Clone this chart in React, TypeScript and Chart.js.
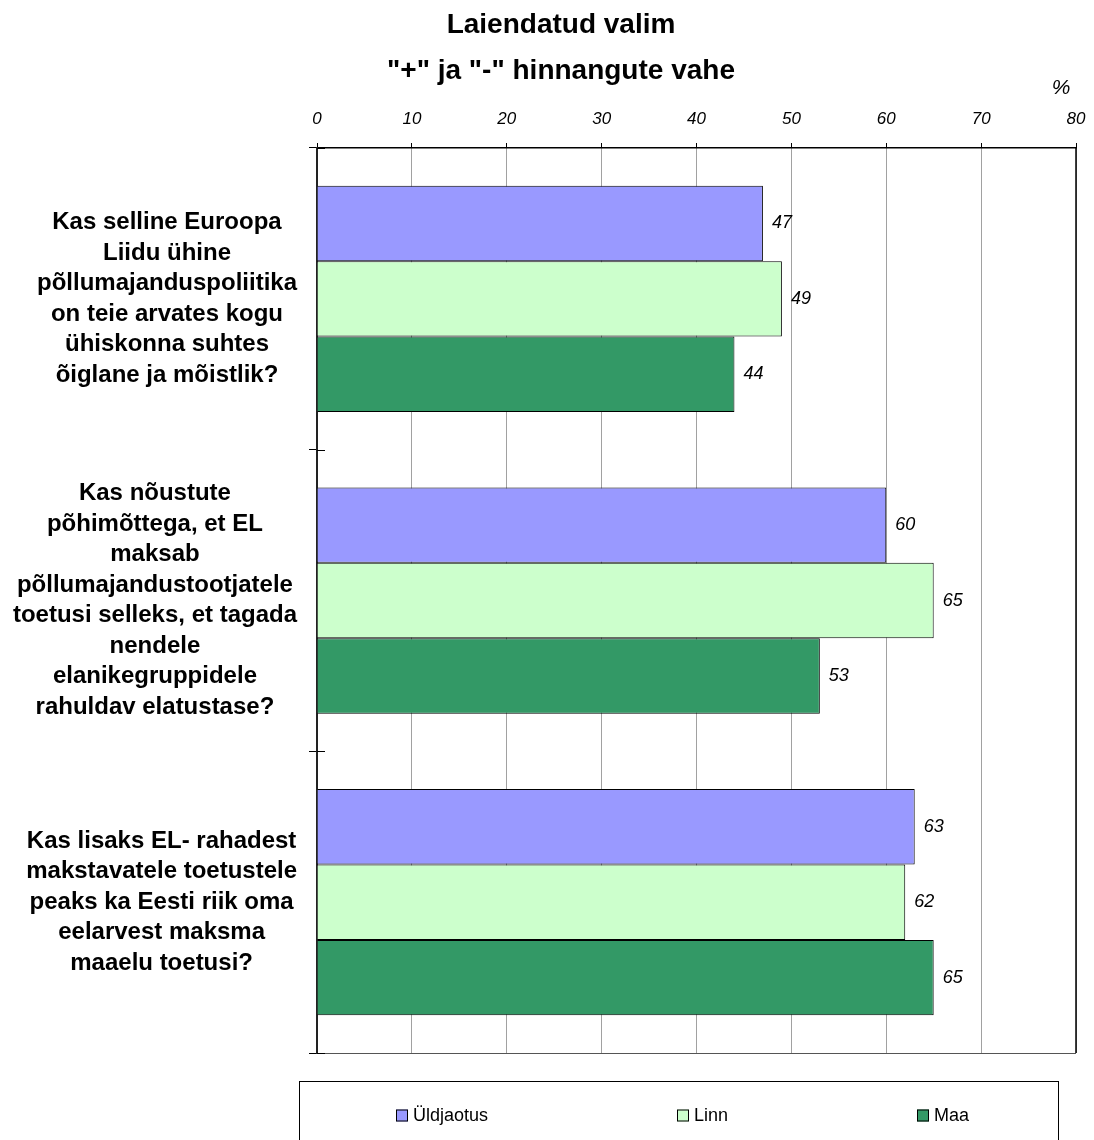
import React, { useEffect, useRef } from "react";
import { Chart, registerables } from "chart.js";

Chart.register(...registerables);

const FONT = '"Liberation Sans", Arial, Helvetica, sans-serif';

const titleLines = ["Laiendatud valim", '"+" ja "-" hinnangute vahe'];
const unitLabel = "%";

const categories: string[][] = [
  [
    "Kas selline Euroopa",
    "Liidu ühine",
    "põllumajanduspoliitika",
    "on teie arvates kogu",
    "ühiskonna suhtes",
    "õiglane ja mõistlik?",
  ],
  [
    "Kas nõustute",
    "põhimõttega, et EL",
    "maksab",
    "põllumajandustootjatele",
    "toetusi selleks, et tagada",
    "nendele",
    "elanikegruppidele",
    "rahuldav elatustase?",
  ],
  [
    "Kas lisaks EL- rahadest",
    "makstavatele toetustele",
    "peaks ka Eesti riik oma",
    "eelarvest maksma",
    "maaelu toetusi?",
  ],
];

const seriesNames = ["Üldjaotus", "Linn", "Maa"];
const uldjaotus = [47, 60, 63];
const linn = [49, 65, 62];
const maa = [44, 53, 65];
const seriesValues = [uldjaotus, linn, maa];
const seriesColors = ["#9999FF", "#CCFFCC", "#339966"];

const axisMin = 0;
const axisMax = 80;
const axisStep = 10;

const legendOffsets = [96, 377, 617];

const annotationsPlugin = {
  id: "annotations",
  afterDatasetsDraw(chart: any) {
    const ctx = chart.ctx;
    ctx.save();
    ctx.fillStyle = "#000";
    ctx.font = `italic 18px ${FONT}`;
    ctx.textAlign = "left";
    ctx.textBaseline = "middle";
    chart.data.datasets.forEach((ds: any, di: number) => {
      const meta = chart.getDatasetMeta(di);
      meta.data.forEach((el: any, i: number) => {
        ctx.fillText(String(ds.data[i]), el.x + 9, el.y);
      });
    });
    ctx.restore();
  },
  afterDraw(chart: any) {
    const ctx = chart.ctx;
    const { left, right, top, bottom } = chart.chartArea;
    const y = chart.scales.y;
    ctx.save();
    ctx.fillStyle = "#000";
    ctx.textAlign = "center";
    ctx.textBaseline = "middle";
    ctx.font = `bold 28px ${FONT}`;
    ctx.fillText(titleLines[0], 561, 25);
    ctx.fillText(titleLines[1], 561, 71);
    ctx.font = `italic 21px ${FONT}`;
    ctx.fillText(unitLabel, 1061, 88);

    ctx.font = `bold 24px ${FONT}`;
    categories.forEach((lines, i) => {
      const cy = y.getPixelForValue(i);
      const widest = Math.max(...lines.map((l) => ctx.measureText(l).width));
      const cx = left - 20 - widest / 2;
      lines.forEach((l, j) => {
        ctx.fillText(l, cx, cy + (j - (lines.length - 1) / 2) * 30.5);
      });
    });

    // bottom line of plot area
    ctx.strokeStyle = "#555";
    ctx.lineWidth = 1.2;
    ctx.beginPath();
    ctx.moveTo(left, Math.round(bottom) + 0.5);
    ctx.lineTo(right, Math.round(bottom) + 0.5);
    ctx.stroke();

    // right border of plot area
    ctx.strokeStyle = "#000";
    ctx.lineWidth = 1.5;
    ctx.beginPath();
    ctx.moveTo(right, top);
    ctx.lineTo(right, bottom);
    ctx.stroke();

    // tick marks crossing into the plot
    ctx.lineWidth = 1;
    for (let i = 0; i <= categories.length; i++) {
      const py = Math.round(y.getPixelForValue(i - 0.5)) + 0.5;
      ctx.beginPath();
      ctx.moveTo(left, py);
      ctx.lineTo(left + 8, py);
      ctx.stroke();
    }
    ctx.restore();
  },
};

export default function App() {
  const canvasRef = useRef<HTMLCanvasElement | null>(null);

  useEffect(() => {
    if (!canvasRef.current) return;
    const chart = new Chart(canvasRef.current, {
      type: "bar",
      data: {
        labels: categories.map((c) => c.join(" ")),
        datasets: seriesNames.map((name, i) => ({
          label: name,
          data: seriesValues[i],
          backgroundColor: seriesColors[i],
          borderColor: "#000",
          borderWidth: 1,
          barPercentage: 1,
          categoryPercentage: 0.75,
        })),
      },
      options: {
        indexAxis: "y",
        responsive: false,
        animation: false,
        devicePixelRatio: 1,
        layout: { padding: { left: 0, right: 18, top: 0, bottom: 87 } },
        plugins: {
          legend: { display: false },
          title: { display: false },
          tooltip: { enabled: false },
        },
        scales: {
          x: {
            position: "top",
            min: axisMin,
            max: axisMax,
            ticks: {
              stepSize: axisStep,
              color: "#000",
              font: { family: FONT, size: 17, style: "italic" },
              padding: 14,
            },
            grid: {
              color: "#444",
              lineWidth: 1,
              tickColor: "#000",
              tickLength: 5,
            },
            border: { display: true, color: "#000", width: 1.5, dash: [1, 1] },
            afterFit: (scale: any) => {
              scale.height = 148;
              scale.paddingLeft = 0;
              scale.paddingRight = 0;
            },
          },
          y: {
            offset: true,
            ticks: { display: false },
            grid: {
              offset: true,
              drawOnChartArea: false,
              color: "#000",
              tickColor: "#000",
              tickLength: 8,
            },
            border: { display: true, color: "#222", width: 2 },
            afterFit: (scale: any) => {
              scale.width = 317;
              scale.paddingTop = 0;
              scale.paddingBottom = 0;
            },
          },
        },
      },
      plugins: [annotationsPlugin],
    } as any);
    return () => chart.destroy();
  }, []);

  return (
    <div style={{ position: "absolute", left: 0, top: 0, width: 1094, height: 1140, background: "#fff", overflow: "hidden" }}>
      <canvas ref={canvasRef} width={1094} height={1140} style={{ display: "block" }} />
      <div
        style={{
          position: "absolute",
          left: 299,
          top: 1081,
          width: 760,
          height: 59,
          border: "1px solid #000",
          borderBottom: "none",
          boxSizing: "border-box",
          fontFamily: FONT,
          fontSize: 18,
        }}
      >
        {seriesNames.map((name, i) => (
          <div
            key={name}
            style={{
              position: "absolute",
              left: legendOffsets[i],
              top: 33,
              transform: "translateY(-50%)",
              display: "flex",
              alignItems: "center",
              whiteSpace: "nowrap",
            }}
          >
            <span
              style={{
                display: "inline-block",
                width: 12,
                height: 12,
                boxSizing: "border-box",
                border: "1px solid #000",
                background: seriesColors[i],
                marginRight: 5,
              }}
            />
            <span>{name}</span>
          </div>
        ))}
      </div>
    </div>
  );
}
